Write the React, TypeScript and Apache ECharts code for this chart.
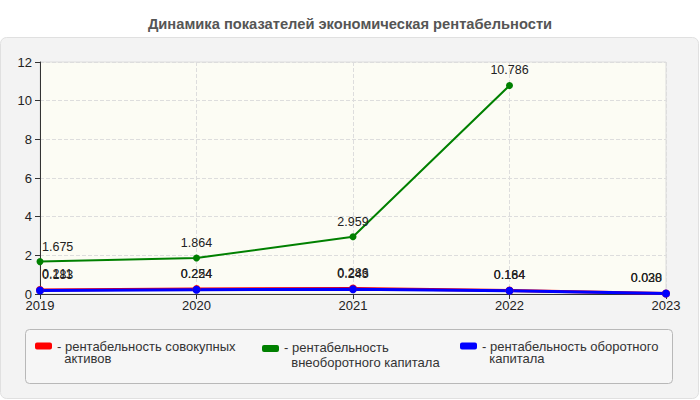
import React, { useEffect, useRef } from "react";
import * as echarts from "echarts";

const titleText = "Динамика показателей экономическая рентабельности";
const years = ["2019", "2020", "2021", "2022", "2023"];
const assetsReturn = [0.211, 0.254, 0.286, 0.184, 0.03];
const nonCurrentReturn = [1.675, 1.864, 2.959, 10.786, null];
const currentReturn = [0.183, 0.224, 0.243, 0.164, 0.028];
const seriesNames = [
  "рентабельность совокупных активов",
  "рентабельность внеоборотного капитала",
  "рентабельность оборотного капитала",
];
const legendFirstLines = [
  "рентабельность совокупных",
  "рентабельность",
  "рентабельность оборотного",
];
const legendSecondLines = ["активов", "внеоборотного капитала", "капитала"];
const seriesColors = ["#ff0000", "#008000", "#0000ff"];
const yMin = 0;
const yMax = 12;
const yStep = 2;

const FONT = "Arial, 'Liberation Sans', sans-serif";
const ICON =
  "path://M2,0H15A2,2,0,0,1,17,2V5A2,2,0,0,1,15,7H2A2,2,0,0,1,0,5V2A2,2,0,0,1,2,0ZM0,19.99L0.01,20L0,20Z";

function withEdgeLabels(values: (number | null)[]) {
  const last = values.length - 1;
  return values.map((v, i) => {
    if (i === 0) return { value: v, label: { align: "left", offset: [2, 0] } };
    if (i === last) return { value: v, label: { align: "right", offset: [-4, 0] } };
    return { value: v };
  });
}

export default function App() {
  const ref = useRef<HTMLDivElement>(null);
  useEffect(() => {
    if (!ref.current) return;
    const chart = echarts.init(ref.current, undefined, { renderer: "svg" });
    const allValues = [assetsReturn, nonCurrentReturn, currentReturn];
    const legendLefts = [35, 262, 460];
    const legendLineHeights = [12, 15, 12];
    chart.setOption({
      animation: false,
      backgroundColor: "#ffffff",
      title: {
        text: titleText,
        left: "center",
        top: 11,
        textStyle: { fontSize: 14.7, fontWeight: "bold", color: "#555", fontFamily: FONT },
      },
      graphic: [
        {
          type: "rect",
          z: -10,
          silent: true,
          shape: { x: 0.5, y: 37.5, width: 698, height: 361, r: 6 },
          style: { fill: "#f3f3f3", stroke: "#e0e0e0", lineWidth: 1 },
        },
        {
          type: "rect",
          z: -9,
          silent: true,
          shape: { x: 25.5, y: 329.5, width: 647, height: 54, r: 4 },
          style: { fill: "#f6f6f6", stroke: "#b8b8b8", lineWidth: 1 },
        },
      ],
      grid: {
        left: 40,
        right: 34,
        top: 62,
        bottom: 106,
        show: true,
        backgroundColor: "#fcfcf4",
        borderColor: "#dcdcdc",
        borderWidth: 1,
      },
      legend: seriesNames.map((name, i) => ({
        left: legendLefts[i],
        top: 340,
        padding: 0,
        orient: "horizontal",
        data: [name],
        icon: ICON,
        itemWidth: 17,
        itemHeight: 20,
        itemStyle: { borderWidth: 0 },
        selectedMode: false,
        formatter: () => "- " + legendFirstLines[i] + "\n  " + legendSecondLines[i],
        textStyle: {
          fontSize: 13,
          color: "#333",
          fontFamily: FONT,
          lineHeight: legendLineHeights[i],
        },
      })),
      xAxis: {
        type: "category",
        data: years,
        boundaryGap: false,
        axisLine: { lineStyle: { color: "#333", width: 1 } },
        axisTick: { show: true, length: 5, lineStyle: { color: "#333" } },
        axisLabel: { color: "#222", fontSize: 13, fontFamily: FONT, margin: 5 },
        splitLine: { show: true, lineStyle: { type: "dashed", color: "#dddddd" } },
      },
      yAxis: {
        type: "value",
        min: yMin,
        max: yMax,
        interval: yStep,
        axisLine: { show: true, lineStyle: { color: "#333", width: 1 } },
        axisTick: { show: true, length: 5, lineStyle: { color: "#333" } },
        axisLabel: { color: "#222", fontSize: 13, fontFamily: FONT, margin: 8 },
        splitLine: { show: true, lineStyle: { type: "dashed", color: "#dddddd" } },
      },
      series: seriesNames.map((name, i) => ({
        name,
        type: "line",
        data: withEdgeLabels(allValues[i]),
        color: seriesColors[i],
        symbol: "circle",
        symbolSize: i === 1 ? 7 : 8,
        lineStyle: { width: i === 1 ? 2 : 3, color: seriesColors[i] },
        itemStyle: { color: seriesColors[i] },
        label: {
          show: true,
          position: "top",
          distance: 5,
          color: "#222",
          fontSize: 12.5,
          fontFamily: FONT,
          formatter: (p: any) => Number(p.value).toFixed(3),
        },
      })),
    });
    return () => chart.dispose();
  }, []);
  return (
    <div
      ref={ref}
      style={{ position: "absolute", left: 0, top: 0, width: 700, height: 400 }}
    />
  );
}
